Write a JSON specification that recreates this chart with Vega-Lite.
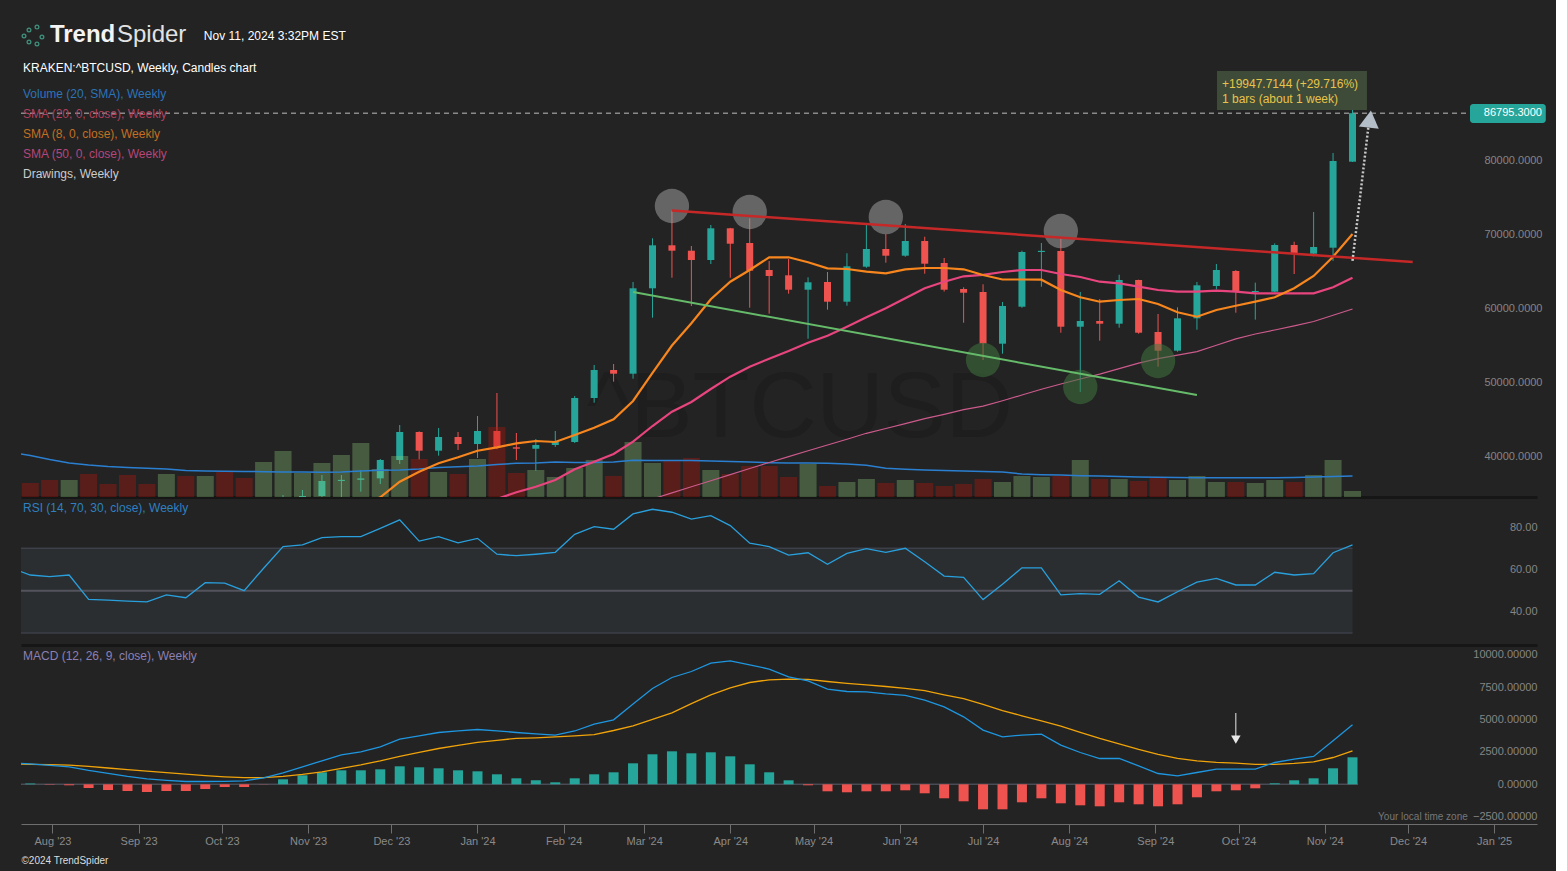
{
  "background": "#232323",
  "padding": {"left": 18, "top": 10, "right": 10, "bottom": 5},
  "spacing": 3,
  "bounds": "flush",
  "config": {"view": {"stroke": null}, "font": "Liberation Sans", "scale": {"continuousPadding": 0}},
  "resolve": {"scale": {"x": "independent", "y": "independent"}},
  "datasets": {
    "w": [
      {"d":"2023-07-17","vs":44.5,"rsi":60.7,"macd":1640,"sig":1560},
      {"d":"2023-07-24","o":30080,"h":30330,"l":28880,"c":29350,"v":14,"vs":41.5,"rsi":57.4,"macd":1582,"sig":1543,"hist":60},
      {"d":"2023-07-31","o":29350,"h":29750,"l":28600,"c":29050,"v":17,"vs":37.5,"rsi":56.6,"macd":1466,"sig":1520,"hist":-30},
      {"d":"2023-08-07","o":29050,"h":30200,"l":28750,"c":29400,"v":17,"vs":34,"rsi":57.4,"macd":1350,"sig":1481,"hist":-77},
      {"d":"2023-08-14","o":29400,"h":30000,"l":25200,"c":26100,"v":23,"vs":32,"rsi":45.9,"macd":1080,"sig":1389,"hist":-285},
      {"d":"2023-08-21","o":26100,"h":26800,"l":25800,"c":26000,"v":13,"vs":30.5,"rsi":45.6,"macd":849,"sig":1258,"hist":-440},
      {"d":"2023-08-28","o":26000,"h":28150,"l":25400,"c":25800,"v":22,"vs":29.5,"rsi":45.1,"macd":617,"sig":1134,"hist":-517},
      {"d":"2023-09-04","o":25800,"h":26400,"l":24900,"c":25750,"v":13,"vs":28.7,"rsi":44.7,"macd":424,"sig":1019,"hist":-594},
      {"d":"2023-09-11","o":25750,"h":27400,"l":24900,"c":26550,"v":23,"vs":28,"rsi":48.0,"macd":309,"sig":903,"hist":-517},
      {"d":"2023-09-18","o":26550,"h":27450,"l":26100,"c":26300,"v":21,"vs":26.5,"rsi":46.7,"macd":216,"sig":779,"hist":-517},
      {"d":"2023-09-25","o":26300,"h":28100,"l":26000,"c":27980,"v":21,"vs":26,"rsi":53.8,"macd":216,"sig":671,"hist":-363},
      {"d":"2023-10-02","o":27980,"h":28600,"l":27200,"c":27950,"v":25,"vs":25.7,"rsi":53.6,"macd":231,"sig":579,"hist":-208},
      {"d":"2023-10-09","o":27950,"h":28000,"l":26550,"c":27150,"v":19,"vs":25.5,"rsi":50.0,"macd":270,"sig":517,"hist":-208},
      {"d":"2023-10-16","o":27150,"h":30400,"l":27100,"c":29950,"v":35,"vs":25.3,"rsi":60.6,"macd":502,"sig":517,"hist":-15},
      {"d":"2023-10-23","o":29950,"h":35200,"l":29900,"c":34500,"v":46,"vs":25,"rsi":70.8,"macd":887,"sig":617,"hist":386},
      {"d":"2023-10-30","o":34500,"h":35880,"l":34100,"c":35070,"v":24,"vs":25,"rsi":71.6,"macd":1350,"sig":772,"hist":694},
      {"d":"2023-11-06","o":35070,"h":37905,"l":34550,"c":37094,"v":34,"vs":24.7,"rsi":75.0,"macd":1813,"sig":965,"hist":926},
      {"d":"2023-11-13","o":37094,"h":37900,"l":34900,"c":37250,"v":42,"vs":25,"rsi":75.5,"macd":2276,"sig":1235,"hist":1080},
      {"d":"2023-11-20","o":37250,"h":38580,"l":35650,"c":37450,"v":54,"vs":26,"s8":33900,"rsi":75.5,"macd":2508,"sig":1505,"hist":1080},
      {"d":"2023-11-27","o":37450,"h":40068,"l":36689,"c":39932,"v":28,"vs":26.7,"s8":34892,"rsi":79.4,"macd":2894,"sig":1813,"hist":1157},
      {"d":"2023-12-04","o":39932,"h":44662,"l":39392,"c":43716,"v":41,"vs":27,"s8":37000,"rsi":83.4,"macd":3488,"sig":2160,"hist":1389},
      {"d":"2023-12-11","o":43716,"h":43800,"l":40000,"c":41189,"v":38,"vs":28,"s8":38351,"rsi":73.4,"macd":3742,"sig":2469,"hist":1312},
      {"d":"2023-12-18","o":41189,"h":44257,"l":40513,"c":43041,"v":25,"vs":29.5,"s8":39486,"rsi":75.5,"macd":3997,"sig":2762,"hist":1235},
      {"d":"2023-12-25","o":43041,"h":43716,"l":41284,"c":42095,"v":23,"vs":30.3,"s8":40297,"rsi":72.6,"macd":4128,"sig":3009,"hist":1080},
      {"d":"2024-01-01","o":42095,"h":45878,"l":40200,"c":43851,"v":38,"vs":31,"s8":41189,"rsi":74.7,"macd":4228,"sig":3233,"hist":1003},
      {"d":"2024-01-08","o":43851,"h":48987,"l":41400,"c":41649,"v":70,"vs":32.5,"s8":41649,"s20":34662,"rsi":67.2,"macd":4128,"sig":3395,"hist":772},
      {"d":"2024-01-15","o":41649,"h":43581,"l":39932,"c":41460,"v":24,"vs":33.7,"s8":42189,"s20":35568,"rsi":66.5,"macd":3997,"sig":3542,"hist":463},
      {"d":"2024-01-22","o":41460,"h":42770,"l":38486,"c":41959,"v":27,"vs":34,"s8":42500,"s20":36324,"rsi":67.2,"macd":3897,"sig":3588,"hist":309},
      {"d":"2024-01-29","o":41959,"h":43851,"l":41700,"c":42405,"v":20,"vs":35,"s8":42365,"s20":37230,"rsi":68.1,"macd":3796,"sig":3665,"hist":154},
      {"d":"2024-02-05","o":42365,"h":48581,"l":42230,"c":48311,"v":29,"vs":34.5,"s8":43311,"s20":38676,"rsi":76.6,"macd":4113,"sig":3742,"hist":463},
      {"d":"2024-02-12","o":48311,"h":52770,"l":47676,"c":52095,"v":37,"vs":34.5,"s8":44297,"s20":39703,"rsi":80.2,"macd":4645,"sig":3835,"hist":772},
      {"d":"2024-02-19","o":52095,"h":52906,"l":50514,"c":51595,"v":21,"vs":35,"s8":45433,"s20":40743,"rsi":79.0,"macd":4977,"sig":4151,"hist":926},
      {"d":"2024-02-26","o":51595,"h":63987,"l":50919,"c":63136,"v":55,"vs":36.7,"s8":47906,"s20":42405,"rsi":86.2,"macd":6188,"sig":4514,"hist":1620},
      {"d":"2024-03-04","o":63136,"h":69893,"l":59163,"c":68947,"v":34,"vs":36.5,"s8":51690,"s20":44527,"s50":34662,"rsi":88.4,"macd":7392,"sig":5015,"hist":2315},
      {"d":"2024-03-11","o":68947,"h":73622,"l":64568,"c":68217,"v":36,"vs":36.5,"s8":55406,"s20":46460,"s50":35486,"rsi":87.0,"macd":8241,"sig":5517,"hist":2546},
      {"d":"2024-03-18","o":68217,"h":68852,"l":60744,"c":66960,"v":39,"vs":36.5,"s8":58406,"s20":47771,"s50":36311,"rsi":83.8,"macd":8704,"sig":6227,"hist":2392},
      {"d":"2024-03-25","o":66960,"h":71690,"l":66419,"c":71244,"v":27,"vs":36,"s8":61649,"s20":49527,"s50":37135,"rsi":85.4,"macd":9352,"sig":6906,"hist":2469},
      {"d":"2024-04-01","o":71244,"h":71300,"l":64568,"c":69163,"v":23,"vs":35.5,"s8":64027,"s20":51190,"s50":37959,"rsi":80.7,"macd":9529,"sig":7446,"hist":2160},
      {"d":"2024-04-08","o":69257,"h":72595,"l":60514,"c":65514,"v":31,"vs":35,"s8":65608,"s20":52541,"s50":38784,"rsi":72.4,"macd":9221,"sig":7855,"hist":1543},
      {"d":"2024-04-15","o":65608,"h":66825,"l":59703,"c":64797,"v":31,"vs":34.3,"s8":67325,"s20":53622,"s50":39595,"rsi":70.8,"macd":8889,"sig":8063,"hist":926},
      {"d":"2024-04-22","o":64892,"h":67095,"l":62406,"c":62946,"v":20,"vs":34,"s8":67325,"s20":54663,"s50":40392,"rsi":66.8,"macd":8295,"sig":8117,"hist":309},
      {"d":"2024-04-29","o":62946,"h":64622,"l":56325,"c":63947,"v":33,"vs":34,"s8":66649,"s20":55784,"s50":41176,"rsi":67.9,"macd":7986,"sig":8102,"hist":-77},
      {"d":"2024-05-06","o":63987,"h":65338,"l":60244,"c":61325,"v":11,"vs":33.7,"s8":65838,"s20":56730,"s50":41959,"rsi":62.5,"macd":7346,"sig":7932,"hist":-540},
      {"d":"2024-05-13","o":61325,"h":67866,"l":60784,"c":66108,"v":15,"vs":33,"s8":65744,"s20":57947,"s50":42743,"rsi":67.6,"macd":7160,"sig":7793,"hist":-617},
      {"d":"2024-05-20","o":66054,"h":71690,"l":65900,"c":68447,"v":18,"vs":31.7,"s8":65379,"s20":59217,"s50":43541,"rsi":69.8,"macd":7137,"sig":7677,"hist":-540},
      {"d":"2024-05-27","o":68447,"h":70473,"l":66595,"c":67541,"v":14,"vs":28.7,"s8":65163,"s20":60433,"s50":44189,"rsi":68.1,"macd":6983,"sig":7546,"hist":-540},
      {"d":"2024-06-03","o":67541,"h":71825,"l":67400,"c":69528,"v":17,"vs":27.7,"s8":65703,"s20":61784,"s50":44851,"rsi":70.0,"macd":6867,"sig":7407,"hist":-463},
      {"d":"2024-06-10","o":69528,"h":70108,"l":65108,"c":66460,"v":14,"vs":27,"s8":65879,"s20":63136,"s50":45514,"rsi":63.7,"macd":6497,"sig":7230,"hist":-694},
      {"d":"2024-06-17","o":66555,"h":67230,"l":62700,"c":62946,"v":11,"vs":26.5,"s8":65879,"s20":64027,"s50":46095,"rsi":56.9,"macd":5980,"sig":6906,"hist":-1080},
      {"d":"2024-06-24","o":63041,"h":63271,"l":58487,"c":62541,"v":13,"vs":26,"s8":65703,"s20":64757,"s50":46730,"rsi":56.3,"macd":5208,"sig":6613,"hist":-1312},
      {"d":"2024-07-01","o":62636,"h":63676,"l":53446,"c":55703,"v":18,"vs":25.5,"s8":64933,"s20":64960,"s50":47203,"rsi":45.8,"macd":4182,"sig":6173,"hist":-1929},
      {"d":"2024-07-08","o":55649,"h":61284,"l":54298,"c":60744,"v":15,"vs":25,"s8":64325,"s20":65338,"s50":47933,"rsi":53.0,"macd":3665,"sig":5694,"hist":-1929},
      {"d":"2024-07-15","o":60649,"h":68216,"l":60500,"c":68041,"v":21,"vs":23,"s8":64325,"s20":65608,"s50":48716,"rsi":60.8,"macd":3796,"sig":5285,"hist":-1389},
      {"d":"2024-07-22","o":68041,"h":69257,"l":63352,"c":68200,"v":20,"vs":22.3,"s8":64298,"s20":65608,"s50":49487,"rsi":60.8,"macd":3873,"sig":4900,"hist":-1080},
      {"d":"2024-07-29","o":68176,"h":69893,"l":57135,"c":57946,"v":21,"vs":22,"s8":62906,"s20":65068,"s50":50203,"rsi":48.0,"macd":3025,"sig":4498,"hist":-1466},
      {"d":"2024-08-05","o":57946,"h":62636,"l":49122,"c":58716,"v":37,"vs":21.3,"s8":61920,"s20":64663,"s50":50879,"rsi":48.6,"macd":2454,"sig":4012,"hist":-1620},
      {"d":"2024-08-12","o":58716,"h":61690,"l":56054,"c":58352,"v":18,"vs":21,"s8":61325,"s20":64027,"s50":51527,"rsi":48.3,"macd":1991,"sig":3549,"hist":-1698},
      {"d":"2024-08-19","o":58352,"h":64973,"l":57811,"c":64257,"v":18,"vs":20.5,"s8":61555,"s20":63811,"s50":52284,"rsi":54.7,"macd":1991,"sig":3125,"hist":-1389},
      {"d":"2024-08-26","o":64257,"h":64300,"l":57000,"c":57135,"v":16,"vs":20,"s8":61690,"s20":63352,"s50":53027,"rsi":47.0,"macd":1427,"sig":2701,"hist":-1543},
      {"d":"2024-09-02","o":57230,"h":59663,"l":52541,"c":54703,"v":19,"vs":19.7,"s8":61014,"s20":62906,"s50":53635,"rsi":44.7,"macd":833,"sig":2315,"hist":-1698},
      {"d":"2024-09-09","o":54703,"h":60568,"l":54568,"c":59081,"v":17,"vs":19.5,"s8":59893,"s20":62676,"s50":54109,"rsi":49.5,"macd":656,"sig":2006,"hist":-1543},
      {"d":"2024-09-16","o":59081,"h":63987,"l":57541,"c":63541,"v":21,"vs":19.3,"s8":59298,"s20":62676,"s50":54582,"rsi":54.0,"macd":910,"sig":1813,"hist":-1003},
      {"d":"2024-09-23","o":63446,"h":66419,"l":63000,"c":65608,"v":15,"vs":19.3,"s8":60203,"s20":62811,"s50":55446,"rsi":55.8,"macd":1173,"sig":1698,"hist":-540},
      {"d":"2024-09-30","o":65473,"h":65600,"l":59838,"c":62676,"v":15,"vs":19.3,"s8":60784,"s20":62676,"s50":56298,"rsi":52.7,"macd":1173,"sig":1636,"hist":-463},
      {"d":"2024-10-07","o":62636,"h":63900,"l":58900,"c":62770,"v":14,"vs":19.3,"s8":61325,"s20":62460,"s50":56960,"rsi":52.7,"macd":1173,"sig":1543,"hist":-309},
      {"d":"2024-10-14","o":62676,"h":69200,"l":62600,"c":68987,"v":17,"vs":19.3,"s8":61920,"s20":62460,"s50":57500,"rsi":58.7,"macd":1682,"sig":1543,"hist":77},
      {"d":"2024-10-21","o":68987,"h":69433,"l":65068,"c":67865,"v":15,"vs":19.5,"s8":63136,"s20":62460,"s50":58068,"rsi":57.4,"macd":1944,"sig":1620,"hist":309},
      {"d":"2024-10-28","o":67811,"h":73446,"l":67460,"c":68717,"v":22,"vs":20,"s8":64798,"s20":62460,"s50":58649,"rsi":58.0,"macd":2145,"sig":1736,"hist":463},
      {"d":"2024-11-04","o":68622,"h":81420,"l":66848,"c":80339,"v":37,"vs":20.5,"s8":67406,"s20":63271,"s50":59500,"rsi":67.9,"macd":3356,"sig":2068,"hist":1235},
      {"d":"2024-11-11","o":80244,"h":87325,"l":80200,"c":86795.3,"v":6,"vs":21,"s8":70473,"s20":64568,"s50":60338,"rsi":71.6,"macd":4591,"sig":2585,"hist":2083}
    ],
    "wm": [{"d":"2024-04-26T02:00:00Z","p":43041,"t":"^BTCUSD"}],
    "circ": [
      {"d":"2024-03-11","p":74257,"k":"top"},
      {"d":"2024-04-08","p":73446,"k":"top"},
      {"d":"2024-05-27","p":72770,"k":"top"},
      {"d":"2024-07-29","p":70878,"k":"top"},
      {"d":"2024-07-01","p":53446,"k":"bot"},
      {"d":"2024-08-05","p":49797,"k":"bot"},
      {"d":"2024-09-02","p":53311,"k":"bot"}
    ],
    "tlr": [{"d":"2024-03-11","p":73649},{"d":"2024-12-02T16:00:00Z","p":66690}],
    "tlg": [{"d":"2024-02-26","p":62635},{"d":"2024-09-16","p":48716}],
    "pl": [{"d":"2023-07-20T16:00:00Z","p":86795.3},{"d":"2024-12-23T07:00:00Z","p":86795.3}],
    "pb": [{"d":"2024-12-23T07:00:00Z","d2":"2025-01-19T14:00:00Z","p":88042,"p2":85475}],
    "pt": [{"d":"2025-01-18T05:00:00Z","p":86795.3,"t":"86795.3000"}],
    "ab": [{"d":"2024-09-23T05:00:00Z","d2":"2024-11-16T05:00:00Z","p":92502,"p2":87231}],
    "at": [
      {"d":"2024-09-25T00:00:00Z","p":90744,"t":"+19947.7144 (+29.716%)"},
      {"d":"2024-09-25T00:00:00Z","p":88717,"t":"1 bars (about 1 week)"}
    ],
    "arl": [{"d":"2024-11-11","p":66848},{"d":"2024-11-16T17:00:00Z","p":84932}],
    "arh": [{"d":"2024-11-17T06:00:00Z","p":86015}],
    "leg": [
      {"d":"2023-09-24T12:00:00Z","p":97232,"t":"Nov 11, 2024 3:32PM EST","k":"white"},
      {"d":"2023-07-21T09:00:00Z","p":92908,"t":"KRAKEN:^BTCUSD, Weekly, Candles chart","k":"white"},
      {"d":"2023-07-21T09:00:00Z","p":89394,"t":"Volume (20, SMA), Weekly","k":"vol"},
      {"d":"2023-07-21T09:00:00Z","p":86691,"t":"SMA (20, 0, close), Weekly","k":"s20"},
      {"d":"2023-07-21T09:00:00Z","p":83988,"t":"SMA (8, 0, close), Weekly","k":"s8"},
      {"d":"2023-07-21T09:00:00Z","p":81286,"t":"SMA (50, 0, close), Weekly","k":"s50"},
      {"d":"2023-07-21T09:00:00Z","p":78583,"t":"Drawings, Weekly","k":"draw"}
    ],
    "logo1": [{"d":"2023-07-31T02:00:00Z","p":97367,"t":"Trend"}],
    "logo2": [{"d":"2023-08-24T05:00:00Z","p":97367,"t":"Spider"}],
    "icon": [
      {"d":"2023-07-21T18:00:00Z","p":97232},
      {"d":"2023-07-23T13:00:00Z","p":98043},
      {"d":"2023-07-26T10:00:00Z","p":98446},
      {"d":"2023-07-23T13:00:00Z","p":96422},
      {"d":"2023-07-26T10:00:00Z","p":96152},
      {"d":"2023-07-28T05:00:00Z","p":97097}
    ],
    "rb": [{"d":"2023-07-20T16:00:00Z","d2":"2024-11-11","lo":30,"hi":70}],
    "rl": [
      {"d":"2023-07-20T16:00:00Z","d2":"2024-11-11","r":70},
      {"d":"2023-07-20T16:00:00Z","d2":"2024-11-11","r":30}
    ],
    "rm": [{"d":"2023-07-20T16:00:00Z","d2":"2024-11-11","r":50}],
    "rt": [{"d":"2023-07-21T09:00:00Z","r":89.0,"t":"RSI (14, 70, 30, close), Weekly"}],
    "mz": [{"d":"2023-07-20T16:00:00Z","d2":"2024-11-13","m":0}],
    "mal": [{"d":"2024-09-30","m":5502},{"d":"2024-09-30","m":3700}],
    "mah": [{"d":"2024-09-30","m":3450}],
    "mt": [{"d":"2023-07-21T09:00:00Z","m":9900,"t":"MACD (12, 26, 9, close), Weekly"}],
    "mtz": [{"d":"2024-12-22T12:00:00Z","m":-2523,"t":"Your local time zone"}],
    "mf": [{"d":"2023-07-20T20:00:00Z","m":-5918,"t":"©2024 TrendSpider"}]
  },
  "vconcat": [
    {
      "width": 1516,
      "height": 487,
      "encoding": {
        "x": {"field": "d", "type": "temporal",
          "scale": {"type": "utc", "nice": false, "padding": 0, "domain": [{"year": 2023, "month": 7, "date": 20, "hours": 16, "utc": true}, {"year": 2025, "month": 1, "date": 16, "hours": 10, "utc": true}]},
          "axis": {"labels": false, "ticks": false, "grid": false, "title": null, "domain": true, "domainColor": "#161616", "domainWidth": 3}}
      },
      "resolve": {"scale": {"y": "independent"}},
      "layer": [
        {"data": {"name": "wm"}, "mark": {"type": "text", "fontSize": 93, "color": "#1e1e1e", "align": "center", "baseline": "alphabetic"},
         "encoding": {"y": {"field": "p", "type": "quantitative", "scale": {"domain": [34932, 100745], "nice": false, "zero": false}, "axis": null}, "text": {"field": "t"}}},
        {"data": {"name": "w"}, "mark": {"type": "rule", "clip": true, "strokeWidth": 1},
         "encoding": {
           "y": {"field": "l", "type": "quantitative", "scale": {"domain": [34932, 100745], "nice": false, "zero": false},
             "axis": {"orient": "right", "values": [40000, 50000, 60000, 70000, 80000], "format": ".4f", "labelAlign": "right", "labelBaseline": "alphabetic", "labelPadding": 5, "ticks": false, "tickSize": 0, "domain": false, "grid": false, "title": null, "labelColor": "#858585", "labelFontSize": 11, "labelBound": false, "labelOverlap": false, "labelFlush": false}},
           "y2": {"field": "h"},
           "color": {"condition": {"test": "datum.c >= datum.o", "value": "#26a69a"}, "value": "#ef5350"}}},
        {"data": {"name": "w"}, "mark": {"type": "bar", "size": 7, "clip": true},
         "encoding": {
           "y": {"field": "o", "type": "quantitative", "scale": {"domain": [34932, 100745], "nice": false, "zero": false}, "axis": null},
           "y2": {"field": "c"},
           "color": {"condition": {"test": "datum.c >= datum.o", "value": "#26a69a"}, "value": "#ef5350"}}},
        {"data": {"name": "w"}, "mark": {"type": "bar", "size": 17, "opacity": 0.35},
         "encoding": {
           "y": {"field": "v", "type": "quantitative", "scale": {"domain": [0, 487], "nice": false, "zero": false}, "axis": null},
           "y2": {"datum": 0},
           "color": {"condition": {"test": "datum.c >= datum.o", "value": "#8ac676"}, "value": "#c01809"}}},
        {"data": {"name": "w"}, "mark": {"type": "line", "clip": true, "color": "#2a7fd0", "strokeWidth": 1.5},
         "encoding": {"y": {"field": "vs", "type": "quantitative", "scale": {"domain": [0, 487], "nice": false, "zero": false}, "axis": null}}},
        {"data": {"name": "w"}, "mark": {"type": "line", "clip": true, "color": "#cc5a8c", "strokeWidth": 1.2},
         "encoding": {"y": {"field": "s50", "type": "quantitative", "scale": {"domain": [34932, 100745], "nice": false, "zero": false}, "axis": null}}},
        {"data": {"name": "w"}, "mark": {"type": "line", "clip": true, "color": "#e8457f", "strokeWidth": 2.2},
         "encoding": {"y": {"field": "s20", "type": "quantitative", "scale": {"domain": [34932, 100745], "nice": false, "zero": false}, "axis": null}}},
        {"data": {"name": "w"}, "mark": {"type": "line", "clip": true, "color": "#f7861e", "strokeWidth": 2.2},
         "encoding": {"y": {"field": "s8", "type": "quantitative", "scale": {"domain": [34932, 100745], "nice": false, "zero": false}, "axis": null}}},
        {"data": {"name": "circ"}, "mark": {"type": "point", "filled": true, "size": 1180, "opacity": 0.55, "strokeWidth": 0},
         "encoding": {"y": {"field": "p", "type": "quantitative", "scale": {"domain": [34932, 100745], "nice": false, "zero": false}, "axis": null},
           "color": {"condition": {"test": "datum.k == 'top'", "value": "#9c9c9c"}, "value": "#3f743f"}}},
        {"data": {"name": "tlr"}, "mark": {"type": "line", "color": "#c62828", "strokeWidth": 2.5},
         "encoding": {"y": {"field": "p", "type": "quantitative", "scale": {"domain": [34932, 100745], "nice": false, "zero": false}, "axis": null}}},
        {"data": {"name": "tlg"}, "mark": {"type": "line", "color": "#66bb6a", "strokeWidth": 2},
         "encoding": {"y": {"field": "p", "type": "quantitative", "scale": {"domain": [34932, 100745], "nice": false, "zero": false}, "axis": null}}},
        {"data": {"name": "pl"}, "mark": {"type": "line", "color": "#8a8a8a", "strokeWidth": 1.5, "strokeDash": [5, 4]},
         "encoding": {"y": {"field": "p", "type": "quantitative", "scale": {"domain": [34932, 100745], "nice": false, "zero": false}, "axis": null}}},
        {"data": {"name": "pb"}, "mark": {"type": "rect", "color": "#26a69a", "cornerRadius": 3},
         "encoding": {"x2": {"field": "d2"}, "y": {"field": "p", "type": "quantitative", "scale": {"domain": [34932, 100745], "nice": false, "zero": false}, "axis": null}, "y2": {"field": "p2"}}},
        {"data": {"name": "pt"}, "mark": {"type": "text", "color": "#ffffff", "fontSize": 11, "align": "right", "baseline": "middle"},
         "encoding": {"y": {"field": "p", "type": "quantitative", "scale": {"domain": [34932, 100745], "nice": false, "zero": false}, "axis": null}, "text": {"field": "t"}}},
        {"data": {"name": "ab"}, "mark": {"type": "rect", "color": "#3e4b38"},
         "encoding": {"x2": {"field": "d2"}, "y": {"field": "p", "type": "quantitative", "scale": {"domain": [34932, 100745], "nice": false, "zero": false}, "axis": null}, "y2": {"field": "p2"}}},
        {"data": {"name": "at"}, "mark": {"type": "text", "color": "#e8c34b", "fontSize": 12, "align": "left", "baseline": "middle"},
         "encoding": {"y": {"field": "p", "type": "quantitative", "scale": {"domain": [34932, 100745], "nice": false, "zero": false}, "axis": null}, "text": {"field": "t"}}},
        {"data": {"name": "arl"}, "mark": {"type": "line", "color": "#c8c8c8", "strokeWidth": 2.5, "strokeDash": [2, 2]},
         "encoding": {"y": {"field": "p", "type": "quantitative", "scale": {"domain": [34932, 100745], "nice": false, "zero": false}, "axis": null}}},
        {"data": {"name": "arh"}, "mark": {"type": "point", "shape": "triangle-up", "filled": true, "size": 400, "angle": 7, "color": "#b4bec8", "opacity": 1},
         "encoding": {"y": {"field": "p", "type": "quantitative", "scale": {"domain": [34932, 100745], "nice": false, "zero": false}, "axis": null}}},
        {"data": {"name": "leg"}, "mark": {"type": "text", "align": "left", "baseline": "middle", "fontSize": 12},
         "encoding": {"y": {"field": "p", "type": "quantitative", "scale": {"domain": [34932, 100745], "nice": false, "zero": false}, "axis": null},
           "text": {"field": "t"},
           "color": {"condition": [
             {"test": "datum.k == 'vol'", "value": "#2c73b8"},
             {"test": "datum.k == 's20'", "value": "#b2405e"},
             {"test": "datum.k == 's8'", "value": "#c46f22"},
             {"test": "datum.k == 's50'", "value": "#b5467b"},
             {"test": "datum.k == 'draw'", "value": "#cccccc"}], "value": "#ffffff"}}},
        {"data": {"name": "logo1"}, "mark": {"type": "text", "align": "left", "baseline": "middle", "fontSize": 24, "fontWeight": "bold", "color": "#f4f4f4"},
         "encoding": {"y": {"field": "p", "type": "quantitative", "scale": {"domain": [34932, 100745], "nice": false, "zero": false}, "axis": null}, "text": {"field": "t"}}},
        {"data": {"name": "logo2"}, "mark": {"type": "text", "align": "left", "baseline": "middle", "fontSize": 24, "fontWeight": "normal", "color": "#e2e2e2"},
         "encoding": {"y": {"field": "p", "type": "quantitative", "scale": {"domain": [34932, 100745], "nice": false, "zero": false}, "axis": null}, "text": {"field": "t"}}},
        {"data": {"name": "icon"}, "mark": {"type": "point", "shape": "circle", "filled": false, "size": 14, "strokeWidth": 1.3, "color": "#3e8f7a", "opacity": 1},
         "encoding": {"y": {"field": "p", "type": "quantitative", "scale": {"domain": [34932, 100745], "nice": false, "zero": false}, "axis": null}}}
      ]
    },
    {
      "width": 1516,
      "height": 145,
      "encoding": {
        "x": {"field": "d", "type": "temporal",
          "scale": {"type": "utc", "nice": false, "padding": 0, "domain": [{"year": 2023, "month": 7, "date": 20, "hours": 16, "utc": true}, {"year": 2025, "month": 1, "date": 16, "hours": 10, "utc": true}]},
          "axis": {"labels": false, "ticks": false, "grid": false, "title": null, "domain": true, "domainColor": "#161616", "domainWidth": 3}}
      },
      "resolve": {"scale": {"y": "independent"}},
      "layer": [
        {"data": {"name": "rb"}, "mark": {"type": "rect", "color": "#2a2e31"},
         "encoding": {"x2": {"field": "d2"},
           "y": {"field": "lo", "type": "quantitative", "scale": {"domain": [24.39, 92.78], "nice": false, "zero": false},
             "axis": {"orient": "right", "values": [40, 60, 80], "format": ".2f", "labelAlign": "right", "labelBaseline": "middle", "labelPadding": 0, "ticks": false, "tickSize": 0, "domain": false, "grid": false, "title": null, "labelColor": "#858585", "labelFontSize": 11, "labelBound": false, "labelOverlap": false, "labelFlush": false}},
           "y2": {"field": "hi"}}},
        {"data": {"name": "rl"}, "mark": {"type": "rule", "color": "#3d3f49", "strokeWidth": 1.5},
         "encoding": {"x2": {"field": "d2"}, "y": {"field": "r", "type": "quantitative", "scale": {"domain": [24.39, 92.78], "nice": false, "zero": false}, "axis": null}}},
        {"data": {"name": "rm"}, "mark": {"type": "rule", "color": "#53535d", "strokeWidth": 2},
         "encoding": {"x2": {"field": "d2"}, "y": {"field": "r", "type": "quantitative", "scale": {"domain": [24.39, 92.78], "nice": false, "zero": false}, "axis": null}}},
        {"data": {"name": "w"}, "mark": {"type": "line", "clip": true, "color": "#29a0dd", "strokeWidth": 1.3},
         "encoding": {"y": {"field": "rsi", "type": "quantitative", "scale": {"domain": [24.39, 92.78], "nice": false, "zero": false}, "axis": null}}},
        {"data": {"name": "rt"}, "mark": {"type": "text", "align": "left", "baseline": "middle", "fontSize": 12, "color": "#2e80c0"},
         "encoding": {"y": {"field": "r", "type": "quantitative", "scale": {"domain": [24.39, 92.78], "nice": false, "zero": false}, "axis": null}, "text": {"field": "t"}}}
      ]
    },
    {
      "width": 1516,
      "height": 176,
      "encoding": {
        "x": {"field": "d", "type": "temporal",
          "scale": {"type": "utc", "nice": false, "padding": 0, "domain": [{"year": 2023, "month": 7, "date": 20, "hours": 16, "utc": true}, {"year": 2025, "month": 1, "date": 16, "hours": 10, "utc": true}]},
          "axis": {"format": "%b '%y", "tickCount": {"interval": "month", "step": 1}, "labelColor": "#8a8a8a", "labelFontSize": 11, "tickColor": "#6e6e6e", "tickSize": 9, "tickWidth": 1, "domainColor": "#6e6e6e", "domainWidth": 1, "labelPadding": 2, "grid": false, "title": null, "labelFlush": false, "labelOverlap": false, "labelBound": false}}
      },
      "resolve": {"scale": {"y": "independent"}},
      "layer": [
        {"data": {"name": "mz"}, "mark": {"type": "rule", "color": "#494b55", "strokeWidth": 1.5},
         "encoding": {"x2": {"field": "d2"},
           "y": {"field": "m", "type": "quantitative", "scale": {"domain": [-3063, 10517], "nice": false, "zero": false},
             "axis": {"orient": "right", "values": [-2500, 0, 2500, 5000, 7500, 10000], "format": ".5f", "labelAlign": "right", "labelBaseline": "middle", "labelPadding": 0, "ticks": false, "tickSize": 0, "domain": false, "grid": false, "title": null, "labelColor": "#858585", "labelFontSize": 11, "labelBound": false, "labelOverlap": false, "labelFlush": false}}}},
        {"data": {"name": "w"}, "mark": {"type": "bar", "size": 10},
         "encoding": {"y": {"field": "hist", "type": "quantitative", "scale": {"domain": [-3063, 10517], "nice": false, "zero": false}, "axis": null},
           "y2": {"datum": 0},
           "color": {"condition": {"test": "datum.hist >= 0", "value": "#26a69a"}, "value": "#ef5350"}}},
        {"data": {"name": "w"}, "mark": {"type": "line", "clip": true, "color": "#f0a30a", "strokeWidth": 1.3},
         "encoding": {"y": {"field": "sig", "type": "quantitative", "scale": {"domain": [-3063, 10517], "nice": false, "zero": false}, "axis": null}}},
        {"data": {"name": "w"}, "mark": {"type": "line", "clip": true, "color": "#1e96e0", "strokeWidth": 1.3},
         "encoding": {"y": {"field": "macd", "type": "quantitative", "scale": {"domain": [-3063, 10517], "nice": false, "zero": false}, "axis": null}}},
        {"data": {"name": "mal"}, "mark": {"type": "line", "color": "#e8e8e8", "strokeWidth": 1},
         "encoding": {"y": {"field": "m", "type": "quantitative", "scale": {"domain": [-3063, 10517], "nice": false, "zero": false}, "axis": null}}},
        {"data": {"name": "mah"}, "mark": {"type": "point", "shape": "triangle-down", "filled": true, "size": 90, "color": "#e8e8e8", "opacity": 1},
         "encoding": {"y": {"field": "m", "type": "quantitative", "scale": {"domain": [-3063, 10517], "nice": false, "zero": false}, "axis": null}}},
        {"data": {"name": "mt"}, "mark": {"type": "text", "align": "left", "baseline": "middle", "fontSize": 12, "color": "#8b80b3"},
         "encoding": {"y": {"field": "m", "type": "quantitative", "scale": {"domain": [-3063, 10517], "nice": false, "zero": false}, "axis": null}, "text": {"field": "t"}}},
        {"data": {"name": "mtz"}, "mark": {"type": "text", "align": "right", "baseline": "middle", "fontSize": 10, "color": "#777777"},
         "encoding": {"y": {"field": "m", "type": "quantitative", "scale": {"domain": [-3063, 10517], "nice": false, "zero": false}, "axis": null}, "text": {"field": "t"}}},
        {"data": {"name": "mf"}, "mark": {"type": "text", "align": "left", "baseline": "middle", "fontSize": 10, "color": "#dddddd"},
         "encoding": {"y": {"field": "m", "type": "quantitative", "scale": {"domain": [-3063, 10517], "nice": false, "zero": false}, "axis": null}, "text": {"field": "t"}}}
      ]
    }
  ]
}
